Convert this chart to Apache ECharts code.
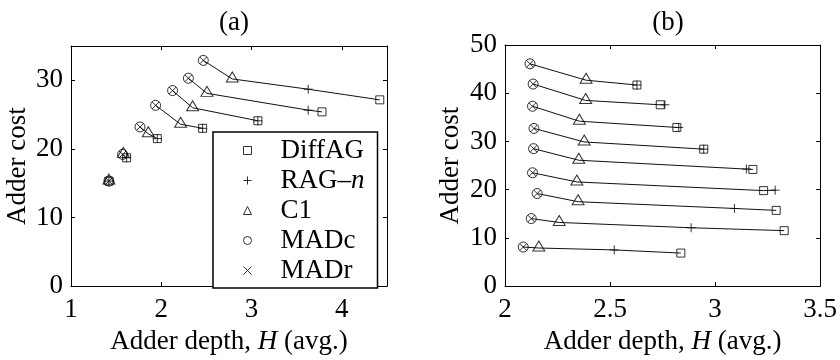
<!DOCTYPE html>
<html>
<head>
<meta charset="utf-8">
<script src="https://cdn.jsdelivr.net/npm/echarts@6/dist/echarts.min.js"></script>
<style>
  html, body { margin: 0; padding: 0; background: #fff; }
  #chart { width: 840px; height: 360px; }
</style>
</head>
<body>
<div id="chart"></div>
<script>
// Panel (a): one entry per filter group, top group first
var madXA  = [2.465, 2.30, 2.125, 1.937, 1.764, 1.572, 1.42];
var madYA  = [32.9, 30.3, 28.5, 26.35, 23.2, 19.2, 15.3];
var c1XA   = [2.786, 2.506, 2.347, 2.214, 1.856, 1.58, 1.42];
var c1YA   = [30.2, 28.1, 26.0, 23.6, 22.2, 19.2, 15.3];
var ragXA  = [3.627, 3.627, 3.07, 2.458, 1.956, 1.616, 1.42];
var ragYA  = [28.7, 25.65, 24.1, 23.0, 21.5, 18.7, 15.3];
var diffXA = [4.42, 3.78, 3.07, 2.458, 1.956, 1.616, 1.42];
var diffYA = [27.15, 25.4, 24.1, 23.0, 21.5, 18.7, 15.3];

// Panel (b): one entry per filter group, top group first
var madXB  = [2.119, 2.134, 2.131, 2.138, 2.136, 2.131, 2.153, 2.125, 2.087];
var madYB  = [46.1, 41.9, 37.3, 32.7, 28.5, 23.5, 19.2, 14.0, 8.1];
var c1XB   = [2.386, 2.384, 2.354, 2.377, 2.351, 2.342, 2.348, 2.258, 2.161];
var c1YB   = [42.7, 38.5, 34.2, 29.9, 26.1, 21.6, 17.5, 13.2, 7.9];
var ragXB  = [2.628, 2.761, 2.827, 2.946, 3.149, 3.286, 3.092, 2.886, 2.52];
var ragYB  = [41.7, 37.6, 32.9, 28.4, 24.27, 19.9, 16.1, 12.1, 7.5];
var diffXB = [2.628, 2.739, 2.818, 2.946, 3.18, 3.231, 3.291, 3.329, 2.837];
var diffYB = [41.7, 37.6, 32.9, 28.4, 24.2, 19.8, 15.7, 11.5, 6.85];

var methodNames = ['DiffAG', 'RAG\u2013n', 'C1', 'MADc', 'MADr'];
var panelTitles = ['(a)', '(b)'];
var yAxisTitle = 'Adder cost';

var FONT = '"Liberation Serif", "Times New Roman", Times, serif';
var FS = 27;

var SYM_PLUS = 'path://M5,0L5,10M0,5L10,5';
var SYM_CROSS = 'path://M0,0L10,10M10,0L0,10';

function zip(xs, ys) {
  return xs.map(function (x, i) { return [x, ys[i]]; });
}

var grids = [
  { left: 71, top: 46, width: 316, height: 249 },
  { left: 505, top: 45, width: 316, height: 250 }
];
var xRanges = [{ min: 1, max: 4.5, interval: 1 }, { min: 2, max: 3.5, interval: 0.5 }];
var yRanges = [{ min: 0, max: 35, interval: 10 }, { min: 0, max: 50, interval: 10 }];

var richName = {
  r: { fontFamily: FONT, fontSize: FS, color: '#000' },
  i: { fontFamily: FONT, fontSize: FS, color: '#000', fontStyle: 'italic' }
};

var frameLine = { show: true, onZero: false, lineStyle: { color: '#000', width: 1 } };
var innerTick = { show: true, inside: true, length: 4, lineStyle: { color: '#000' } };

var xAxes = [], yAxes = [];
[0, 1].forEach(function (g) {
  var xr = xRanges[g], yr = yRanges[g];
  xAxes.push({
    type: 'value', gridIndex: g, position: 'bottom',
    min: xr.min, max: xr.max, interval: xr.interval,
    name: '{r|Adder depth, }{i|H}{r| (avg.)}',
    nameLocation: 'middle', nameGap: 36,
    nameTextStyle: { rich: richName },
    axisLine: frameLine, axisTick: innerTick,
    axisLabel: { show: true, margin: 10, fontFamily: FONT, fontSize: FS, color: '#000',
                 showMaxLabel: g === 1, showMinLabel: true },
    splitLine: { show: false }
  });
  xAxes.push({
    type: 'value', gridIndex: g, position: 'top',
    min: xr.min, max: xr.max, interval: xr.interval,
    axisLine: frameLine, axisTick: innerTick,
    axisLabel: { show: false }, splitLine: { show: false }
  });
  yAxes.push({
    type: 'value', gridIndex: g, position: 'left',
    min: yr.min, max: yr.max, interval: yr.interval,
    name: yAxisTitle, nameLocation: 'middle', nameGap: g === 0 ? 40 : 41,
    nameTextStyle: { fontFamily: FONT, fontSize: FS, color: '#000' },
    axisLine: frameLine, axisTick: innerTick,
    axisLabel: { show: true, margin: 8, padding: [5, 0, 0, 0], fontFamily: FONT, fontSize: FS, color: '#000',
                 showMaxLabel: g === 1 },
    splitLine: { show: false }
  });
  yAxes.push({
    type: 'value', gridIndex: g, position: 'right',
    min: yr.min, max: yr.max, interval: yr.interval,
    axisLine: frameLine, axisTick: innerTick,
    axisLabel: { show: false }, splitLine: { show: false }
  });
});

var panels = [
  { mx: madXA, my: madYA, cx: c1XA, cy: c1YA, rx: ragXA, ry: ragYA, dx: diffXA, dy: diffYA },
  { mx: madXB, my: madYB, cx: c1XB, cy: c1YB, rx: ragXB, ry: ragYB, dx: diffXB, dy: diffYB }
];

var series = [];
// connecting lines for each filter group, drawn beneath the markers
panels.forEach(function (p, g) {
  p.mx.forEach(function (_, i) {
    var pts = [[p.mx[i], p.my[i]], [p.cx[i], p.cy[i]], [p.rx[i], p.ry[i]], [p.dx[i], p.dy[i]]];
    pts.sort(function (a, b) { return a[0] - b[0]; });
    series.push({
      type: 'line', xAxisIndex: g * 2, yAxisIndex: g * 2,
      data: pts, showSymbol: false, symbol: 'none', silent: true,
      lineStyle: { color: '#111', width: 1 }
    });
  });
});

var markerStyle = { color: 'transparent', borderColor: '#000', borderWidth: 1 };
panels.forEach(function (p, g) {
  var ax = { xAxisIndex: g * 2, yAxisIndex: g * 2 };
  series.push(Object.assign({ type: 'scatter', name: methodNames[0], symbol: 'rect', symbolSize: 8,
    data: zip(p.dx, p.dy), itemStyle: markerStyle }, ax));
  series.push(Object.assign({ type: 'scatter', name: methodNames[1], symbol: SYM_PLUS, symbolSize: 9,
    data: zip(p.rx, p.ry), itemStyle: markerStyle }, ax));
  series.push(Object.assign({ type: 'scatter', name: methodNames[2], symbol: 'triangle', symbolSize: [12, 10],
    symbolOffset: [0, -2], data: zip(p.cx, p.cy), itemStyle: markerStyle }, ax));
  series.push(Object.assign({ type: 'scatter', name: methodNames[3], symbol: 'circle', symbolSize: 10,
    data: zip(p.mx, p.my), itemStyle: markerStyle }, ax));
  series.push(Object.assign({ type: 'scatter', name: methodNames[4], symbol: SYM_CROSS, symbolSize: 7,
    data: zip(p.mx, p.my), itemStyle: markerStyle }, ax));
});

var chart = echarts.init(document.getElementById('chart'), null, { renderer: 'canvas' });
chart.setOption({
  animation: false,
  backgroundColor: '#fff',
  textStyle: { fontFamily: FONT },
  title: [
    { text: panelTitles[0], left: 229, top: 4, textAlign: 'center',
      textStyle: { fontFamily: FONT, fontSize: FS, fontWeight: 'normal', color: '#000' } },
    { text: panelTitles[1], left: 663, top: 4, textAlign: 'center',
      textStyle: { fontFamily: FONT, fontSize: FS, fontWeight: 'normal', color: '#000' } }
  ],
  grid: grids,
  xAxis: xAxes,
  yAxis: yAxes,
  legend: {
    orient: 'vertical', left: 213, top: 132,
    data: methodNames,
    backgroundColor: '#fff', borderColor: '#000', borderWidth: 1.5,
    padding: [5, 13, 4, 30],
    itemWidth: 8, itemHeight: 8, itemGap: 3,
    selectedMode: false,
    itemStyle: { color: 'transparent', borderColor: '#000', borderWidth: 1 },
    formatter: function (name) {
      if (name === methodNames[1]) return '{r|RAG\u2013}{i|n}';
      return '{r|' + name + '}';
    },
    textStyle: {
      fontFamily: FONT, fontSize: FS, lineHeight: 27, color: '#000', padding: [0, 0, 0, 24],
      rich: {
        r: { fontFamily: FONT, fontSize: FS, color: '#000' },
        i: { fontFamily: FONT, fontSize: FS, color: '#000', fontStyle: 'italic' }
      }
    }
  },
  series: series
});
</script>
</body>
</html>
